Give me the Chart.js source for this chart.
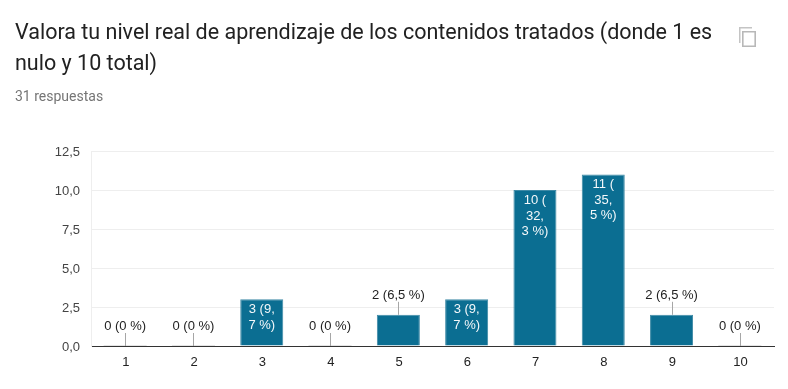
<!DOCTYPE html>
<html lang="es">
<head>
<meta charset="utf-8">
<title>Nivel real de aprendizaje</title>
<script src="https://cdn.jsdelivr.net/npm/chart.js@4"></script>
<style>
html,body{margin:0;padding:0;background:#fff;width:788px;height:389px;overflow:hidden}
#wrap{position:relative;width:788px;height:389px}
#title{position:absolute;left:15px;top:16px;width:720px;font:21.5px/31px Roboto,sans-serif;color:#212121}
#sub{position:absolute;left:15px;top:87px;font:14px/18px Roboto,sans-serif;color:#757575}
#icon{position:absolute;left:736px;top:25px;width:24px;height:24px}
#c{position:absolute;left:0;top:0}
</style>
</head>
<body>
<div id="wrap">
<canvas id="c" width="788" height="389"></canvas>
<div id="title">Valora tu nivel real de aprendizaje de los contenidos tratados (donde 1 es<br>nulo y 10 total)</div>
<div id="sub">31 respuestas</div>
<svg id="icon" viewBox="0 0 24 24"><path fill="#c4c4c4" d="M3 2h13v1.500H4.500V18H3z"/><path fill="#b8b8b8" fill-rule="evenodd" d="M6 6h14v16H6zM7.600 7.600v12.800h10.800V7.600z"/></svg>
</div>
<script>
const categories = ['1','2','3','4','5','6','7','8','9','10'];
const values = [0,0,3,0,2,3,10,11,2,0];
const pointLabels = [
  ['0 (0 %)'],['0 (0 %)'],['3 (9,','7 %)'],['0 (0 %)'],['2 (6,5 %)'],
  ['3 (9,','7 %)'],['10 (','32,','3 %)'],['11 (','35,','5 %)'],['2 (6,5 %)'],['0 (0 %)']
];
const insideBar = [false,false,true,false,false,true,true,true,false,false];
const tickStep = 2.5;
const axisMax = 12.5;
const barColor = '#0b6e92';
const edgeColor = '#3f8aa6';

const FONT = '13px "Liberation Sans", Arial, sans-serif';

const labelsPlugin = {
  id: 'pointLabels',
  afterDatasetsDraw(chart) {
    const ctx = chart.ctx, y = chart.scales.y;
    const meta = chart.getDatasetMeta(0);
    const base = y.getPixelForValue(0);
    ctx.save();
    ctx.font = FONT;
    ctx.textAlign = 'center';
    ctx.textBaseline = 'middle';
    meta.data.forEach((bar, i) => {
      const top = y.getPixelForValue(values[i]);
      if (values[i] === 0) {
        ctx.fillStyle = '#e4e4e4';
        ctx.fillRect(bar.x - bar.width / 2, base - 1, bar.width, 1);
      }
      if (insideBar[i]) {
        ctx.fillStyle = '#f4f8fa';
        pointLabels[i].forEach((t, k) => ctx.fillText(t, bar.x, top + 10.5 + k * 15.5));
      } else {
        ctx.strokeStyle = '#a6a6a6';
        ctx.lineWidth = 1;
        ctx.beginPath();
        ctx.moveTo(Math.round(bar.x) + .5, top - 13);
        ctx.lineTo(Math.round(bar.x) + .5, top);
        ctx.stroke();
        ctx.fillStyle = '#222222';
        ctx.fillText(pointLabels[i][0], bar.x, top - 19.5);
      }
    });
    ctx.restore();
  }
};

new Chart(document.getElementById('c'), {
  type: 'bar',
  data: {
    labels: categories,
    datasets: [{
      data: values,
      backgroundColor: barColor,
      borderColor: edgeColor,
      borderWidth: 1,
      barPercentage: 0.63,
      categoryPercentage: 1
    }]
  },
  options: {
    responsive: false,
    animation: false,
    layout: { padding: { top: 151, right: 14, left: 0, bottom: 0 } },
    plugins: { legend: { display: false }, title: { display: false }, tooltip: { enabled: false } },
    scales: {
      x: {
        offset: true,
        afterFit(s) { s.height = 43; },
        grid: {
          color: c => c.index === categories.length ? '#f0f0f0' : 'transparent',
          drawTicks: false
        },
        border: { color: '#333333', width: 1 },
        ticks: { color: '#222222', font: { family: '"Liberation Sans", Arial, sans-serif', size: 13 }, padding: 9, maxRotation: 0, labelOffset: 0.7 }
      },
      y: {
        min: 0,
        max: axisMax,
        afterFit(s) { s.width = 91; },
        grid: { color: '#eeeeee', lineWidth: 1, drawTicks: false },
        border: { color: '#eeeeee', width: 1 },
        ticks: {
          stepSize: tickStep,
          color: '#444444',
          padding: 11,
          labelOffset: 1,
          font: { family: '"Liberation Sans", Arial, sans-serif', size: 13 },
          callback: v => v.toFixed(1).replace('.', ',')
        }
      }
    }
  },
  plugins: [labelsPlugin]
});
</script>
</body>
</html>
